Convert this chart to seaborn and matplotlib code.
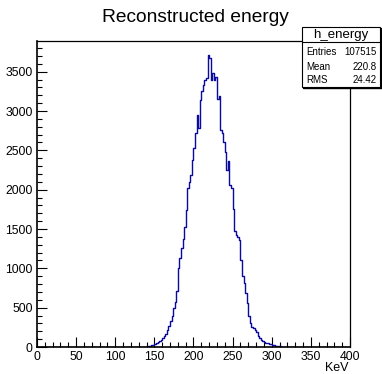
import matplotlib
matplotlib.use("Agg")
import matplotlib.pyplot as plt
import seaborn as sns
import numpy as np
import pandas as pd
from matplotlib.ticker import MultipleLocator
from matplotlib.patches import Rectangle

# bin edges every 2 keV from 0 to 400, counts
bin_width = 2
lo_edge = 130
counts_nonzero = [
    1, 2, 3, 4, 6, 9, 13, 17, 22, 28,              # 130-148
    34, 45, 58, 75, 92, 112, 135, 165, 210, 262,   # 150-168
    330, 400, 490, 575, 710, 1000, 1130, 1255, 1370, 1530,  # 170-188
    1745, 2020, 2100, 2190, 2380, 2530, 2720, 2950, 2790, 3140,  # 190-208
    3250, 3330, 3390, 3420, 3710, 3680, 3390, 3480, 3390, 3430,  # 210-228
    3150, 3190, 2760, 2720, 2600, 2480, 2250, 2370, 2060, 2020,  # 230-248
    1750, 1470, 1430, 1400, 1360, 1100, 900, 810, 690, 560,      # 250-268
    400, 300, 258, 237, 210, 190, 140, 120, 92, 80,              # 270-288
    62, 55, 46, 40, 33, 27, 22, 18, 14, 10,                      # 290-308
    7, 5, 4, 3, 2, 1,                                            # 310-320
]
hist_name = "h_energy"
entries = "107515"
mean_txt = "220.8"
rms_txt = "24.42"

edges = np.arange(0, 401, bin_width)
centers = edges[:-1] + bin_width / 2
counts = np.zeros(len(centers))
start = lo_edge // bin_width
counts[start:start + len(counts_nonzero)] = counts_nonzero
df = pd.DataFrame({"energy": centers, "n": counts})

sns.set_style("white")
plt.rcParams["font.family"] = ["Liberation Sans", "DejaVu Sans"]
plt.rcParams["text.color"] = "black"
plt.rcParams["xtick.color"] = "black"
plt.rcParams["ytick.color"] = "black"

W, H = 382, 374
fig = plt.figure(figsize=(W / 100, H / 100), dpi=100)
ax = fig.add_axes([37 / W, 27 / H, (350 - 37) / W, (347 - 41) / H])

sns.histplot(data=df, x="energy", weights="n", binwidth=bin_width, binrange=(0, 400),
             element="step", fill=False, color="#0a0a9c", linewidth=1.0, ax=ax)

ax.set_xlim(0, 400)
ax.set_ylim(0, 3890)
ax.set_xlabel("")
ax.set_ylabel("")
ax.xaxis.set_major_locator(MultipleLocator(50))
ax.xaxis.set_minor_locator(MultipleLocator(10))
ax.yaxis.set_major_locator(MultipleLocator(500))
ax.yaxis.set_minor_locator(MultipleLocator(100))
ax.tick_params(which="major", direction="in", length=7, width=0.8, labelsize=8.8,
               pad=3, bottom=True, left=True, top=False, right=False,
               colors="black", labelcolor="black")
ax.tick_params(which="minor", direction="in", length=3.5, width=0.8,
               bottom=True, left=True, top=False, right=False, colors="black")
for s in ax.spines.values():
    s.set_color("black")
    s.set_linewidth(0.9)
ax.spines["left"].set_linewidth(1.2)
ax.spines["bottom"].set_linewidth(1.2)

fig.text(195 / W, 1 - 17 / H, "Reconstructed energy", ha="center", va="center",
         fontsize=13.8, color="black")
fig.text(349 / W, 1 - 368 / H, "KeV", ha="right", va="center", fontsize=9,
         color="black")

# stats box, ROOT style
bx0, bx1, by_top, by_bot, by_head = 302, 380, 27, 87, 42
box = Rectangle((bx0 / W, 1 - by_bot / H), (bx1 - bx0) / W, (by_bot - by_top) / H,
                transform=fig.transFigure, facecolor="white", edgecolor="black",
                linewidth=0.8, zorder=5)
fig.patches.append(box)
fig.add_artist(plt.Line2D([bx0 / W, bx1 / W], [1 - by_head / H] * 2,
                          transform=fig.transFigure, color="black", lw=0.8, zorder=6))
fig.add_artist(plt.Line2D([(bx0 + 1) / W, (bx1 + 1) / W], [1 - (by_bot + 1) / H] * 2,
                          transform=fig.transFigure, color="black", lw=1.0, zorder=6))
fig.add_artist(plt.Line2D([(bx1 + 1) / W] * 2, [1 - (by_top + 1) / H, 1 - (by_bot + 1) / H],
                          transform=fig.transFigure, color="black", lw=1.0, zorder=6))
fig.text((bx0 + bx1) / 2 / W, 1 - 35 / H, hist_name, ha="center", va="center",
         fontsize=9.5, zorder=7, color="black")
rows = [("Entries", entries, 52), ("Mean", mean_txt, 67), ("RMS", rms_txt, 80)]
for lab, val, yy in rows:
    fig.text((bx0 + 4) / W, 1 - yy / H, lab, ha="left", va="center", fontsize=7,
             zorder=7, color="black")
    fig.text((bx1 - 3) / W, 1 - yy / H, val, ha="right", va="center", fontsize=7,
             zorder=7, color="black")

fig.savefig("out.png", dpi=100)
